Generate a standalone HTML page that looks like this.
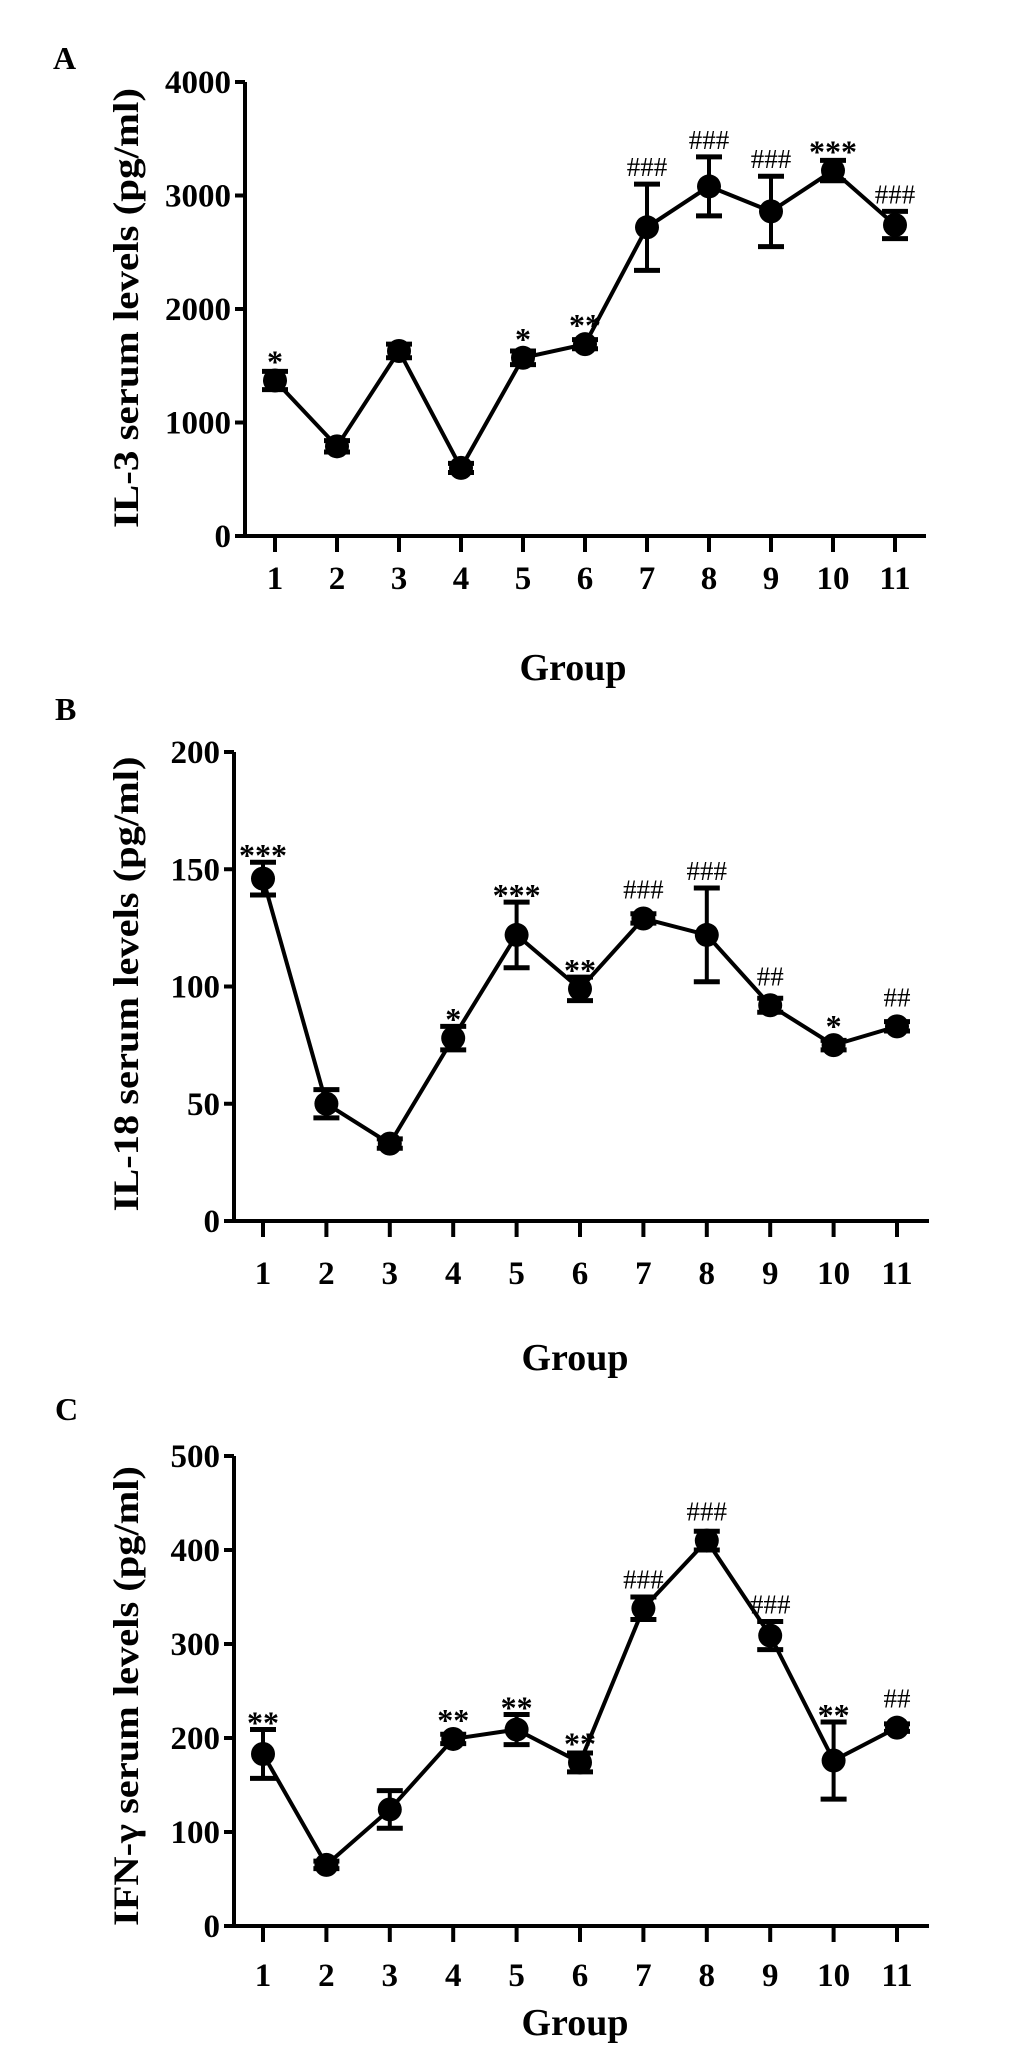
<!DOCTYPE html>
<html><head><meta charset="utf-8"><style>
html,body{margin:0;padding:0;background:#fff}
svg{display:block}
text{font-family:"Liberation Serif",serif;fill:#000}
</style></head><body>
<svg id="fig" width="1033" height="2053" viewBox="0 0 1033 2053"></svg>
<script>
const groups=[1,2,3,4,5,6,7,8,9,10,11];
const il3Values=[1370,790,1630,600,1570,1690,2720,3080,2860,3220,2740];
const il3Errors=[80,50,60,40,60,40,380,260,310,90,120];
const il3Marks=['*','','','','*','**','###','###','###','***','###'];
const il3Ticks=[0,1000,2000,3000,4000];
const il18Values=[146,50,33,78,122,99,129,122,92,75,83];
const il18Errors=[7,6,2,5,14,5,2,20,3,2,2];
const il18Marks=['***','','','*','***','**','###','###','##','*','##'];
const il18Ticks=[0,50,100,150,200];
const ifnValues=[183,65,124,199,209,174,338,410,309,176,211];
const ifnErrors=[26,4,20,5,16,10,12,10,15,41,4];
const ifnMarks=['**','','','**','**','**','###','###','###','**','##'];
const ifnTicks=[0,100,200,300,400,500];

const NS='http://www.w3.org/2000/svg';
const svg=document.getElementById('fig');
function mk(tag,attrs,parent,txt){const e=document.createElementNS(NS,tag);for(const k in attrs)e.setAttribute(k,attrs[k]);if(txt!==undefined)e.textContent=txt;(parent||svg).appendChild(e);return e;}

function panel(cfg){
  const g=mk('g',{});
  
  
  const yMax=cfg.ticks[cfg.ticks.length-1];
  const y=v=>cfg.y0-(v/yMax)*(cfg.y0-cfg.yTop);
  const x=i=>cfg.x1+(i)*cfg.dx;
  const lab=mk('text',{x:cfg.labX,y:cfg.labY,'font-size':32,'font-weight':'bold'},g,cfg.letter);
  
  
  const ya=mk('line',{x1:cfg.ax,y1:cfg.yTop,x2:cfg.ax,y2:cfg.y0+2,stroke:'#000','stroke-width':4},g);
  
  
  const xa=mk('line',{x1:cfg.ax-2,y1:cfg.y0,x2:cfg.xEnd,y2:cfg.y0,stroke:'#000','stroke-width':4},g);
  
  
  cfg.ticks.forEach(t=>{
    mk('line',{x1:cfg.ax-10,y1:y(t),x2:cfg.ax,y2:y(t),stroke:'#000','stroke-width':4},g);
    const tl=mk('text',{x:cfg.ax-14,y:y(t)+11,'font-size':33,'font-weight':'bold','text-anchor':'end'},g,String(t));
    
    
  });
  groups.forEach((gr,i)=>{
    mk('line',{x1:x(i),y1:cfg.y0,x2:x(i),y2:cfg.y0+16,stroke:'#000','stroke-width':4},g);
    const tl=mk('text',{x:x(i),y:cfg.tickLabY,'font-size':33,'font-weight':'bold','text-anchor':'middle'},g,String(gr));
    
    
  });
  const yt=mk('text',{x:0,y:0,'font-size':36,'font-weight':'bold','text-anchor':'middle',transform:`translate(${cfg.titleX},${cfg.titleY}) rotate(-90)`,textLength:cfg.titleLen,lengthAdjust:'spacingAndGlyphs'},g,cfg.title);
  
  
  const xt=mk('text',{x:cfg.groupX,y:cfg.groupY,'font-size':38,'font-weight':'bold','text-anchor':'middle'},g,'Group');
  
  
  const pts=cfg.values.map((v,i)=>x(i)+','+y(v)).join(' ');
  const pl=mk('polyline',{points:pts,fill:'none',stroke:'#000','stroke-width':4},g);
  
  
  cfg.values.forEach((v,i)=>{
    const e=cfg.errors[i];
    const eg=mk('g',{},g);
    
    
    mk('line',{x1:x(i),y1:y(v+e),x2:x(i),y2:y(v-e),stroke:'#000','stroke-width':4},eg);
    mk('line',{x1:x(i)-13,y1:y(v+e),x2:x(i)+13,y2:y(v+e),stroke:'#000','stroke-width':5},eg);
    mk('line',{x1:x(i)-13,y1:y(v-e),x2:x(i)+13,y2:y(v-e),stroke:'#000','stroke-width':5},eg);
    const c=mk('circle',{cx:x(i),cy:y(v),r:12,fill:'#000'},g);
    
    
    const m=cfg.marks[i];
    if(m){
      const top=Math.min(y(v+e),y(v)-12);
      const isHash=m[0]==='#';
      const t=mk('text',{x:x(i),y:isHash?top-8:top+4,'font-size':isHash?27:32,'font-weight':isHash?'normal':'bold','text-anchor':'middle'},g,m);
      
      
    }
  });
}
panel({id:'il3',letter:'A',labX:53,labY:69,ax:245,y0:536,yTop:82,x1:275,dx:62,xEnd:926,ticks:il3Ticks,values:il3Values,errors:il3Errors,marks:il3Marks,tickLabY:589,title:'IL-3 serum levels (pg/ml)',titleX:138,titleY:308,titleLen:440,groupX:573,groupY:680});
panel({id:'il18',letter:'B',labX:55,labY:720,ax:234,y0:1221,yTop:752,x1:263,dx:63.4,xEnd:929,ticks:il18Ticks,values:il18Values,errors:il18Errors,marks:il18Marks,tickLabY:1284,title:'IL-18 serum levels (pg/ml)',titleX:138,titleY:984,titleLen:455,groupX:575,groupY:1370});
panel({id:'ifn',letter:'C',labX:55,labY:1420,ax:234,y0:1926,yTop:1456,x1:263,dx:63.4,xEnd:929,ticks:ifnTicks,values:ifnValues,errors:ifnErrors,marks:ifnMarks,tickLabY:1986,title:'IFN-γ serum levels (pg/ml)',titleX:138,titleY:1696,titleLen:460,groupX:575,groupY:2035});
</script>
</body></html>
